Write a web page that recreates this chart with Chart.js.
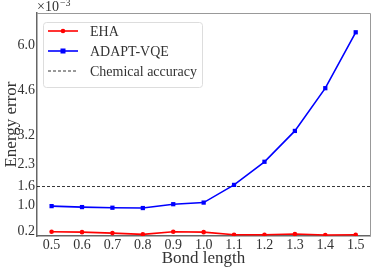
<!DOCTYPE html>
<html>
<head>
<meta charset="utf-8">
<script src="https://cdn.jsdelivr.net/npm/chart.js@4/dist/chart.umd.min.js"></script>
<style>
html,body{margin:0;padding:0;background:#fff;}
canvas{display:block;}
</style>
</head>
<body>
<canvas id="c" width="374" height="269"></canvas>
<script>
const bondLengths = [0.5, 0.6, 0.7, 0.8, 0.9, 1.0, 1.1, 1.2, 1.3, 1.4, 1.5];
const ehaError = [0.19, 0.18, 0.15, 0.11, 0.19, 0.18, 0.10, 0.10, 0.12, 0.09, 0.10];
const adaptError = [0.99, 0.96, 0.94, 0.93, 1.05, 1.10, 1.65, 2.37, 3.33, 4.66, 6.40];
const chemicalAccuracy = 1.6;
const yTicks = [0.2, 1.0, 1.6, 2.3, 3.2, 4.6, 6.0];
const xTicks = [0.5, 0.6, 0.7, 0.8, 0.9, 1.0, 1.1, 1.2, 1.3, 1.4, 1.5];
const seriesNames = ['EHA', 'ADAPT-VQE', 'Chemical accuracy'];
const X_MIN = 0.452, X_MAX = 1.547;

const FONT = '"Liberation Serif", "Times New Roman", serif';
const TXT = '#333';

const framePlugin = {
  id: 'frame',
  afterDraw(chart) {
    const {ctx, chartArea: a} = chart;
    ctx.save();
    // right and top spines
    ctx.strokeStyle = '#999';
    ctx.lineWidth = 1;
    ctx.beginPath();
    ctx.moveTo(a.left, a.top + 0.5);
    ctx.lineTo(a.right + 0.5, a.top + 0.5);
    ctx.lineTo(a.right + 0.5, a.bottom);
    ctx.stroke();
    // multiplier
    ctx.fillStyle = TXT;
    ctx.textBaseline = 'alphabetic';
    ctx.textAlign = 'left';
    ctx.font = '14px ' + FONT;
    ctx.fillText('\u00d710', a.left, 11);
    const w = ctx.measureText('\u00d710').width;
    ctx.font = '10px ' + FONT;
    ctx.fillText('\u22123', a.left + w + 1, 6);
    // legend
    const lx = 43, ly = 22, lw = 159, lh = 65;
    ctx.fillStyle = 'rgba(255,255,255,0.85)';
    ctx.strokeStyle = '#ddd';
    ctx.lineWidth = 1;
    ctx.beginPath();
    ctx.roundRect(lx + 0.5, ly + 0.5, lw, lh, 3);
    ctx.fill();
    ctx.stroke();
    const ds = chart.data.datasets;
    const rows = [31, 51, 71];
    ds.forEach((d, i) => {
      const y = rows[i];
      ctx.save();
      ctx.strokeStyle = d.borderColor;
      ctx.lineWidth = d.borderWidth;
      ctx.setLineDash(d.borderDash || []);
      ctx.beginPath();
      ctx.moveTo(48, y);
      ctx.lineTo(78, y);
      ctx.stroke();
      ctx.restore();
      if (d.pointRadius > 0) {
        ctx.fillStyle = d.borderColor;
        if (d.pointStyle === 'rect') {
          ctx.fillRect(63 - 2.5, y - 2.5, 5, 5);
        } else {
          ctx.beginPath();
          ctx.arc(63, y, 2.3, 0, Math.PI * 2);
          ctx.fill();
        }
      }
      ctx.fillStyle = TXT;
      ctx.font = '14px ' + FONT;
      ctx.textBaseline = 'middle';
      ctx.fillText(d.label, 90, y + 1);
    });
    ctx.restore();
  }
};

const ctx = document.getElementById('c').getContext('2d');
new Chart(ctx, {
  type: 'line',
  data: {
    datasets: [
      {
        label: seriesNames[0],
        data: bondLengths.map((x, i) => ({x, y: ehaError[i]})),
        borderColor: '#ff0000', backgroundColor: '#ff0000',
        borderWidth: 1.6, pointRadius: 2.3, pointStyle: 'circle', pointBorderWidth: 0
      },
      {
        label: seriesNames[1],
        data: bondLengths.map((x, i) => ({x, y: adaptError[i]})),
        borderColor: '#0000ff', backgroundColor: '#0000ff',
        borderWidth: 1.6, pointRadius: 3, pointStyle: 'rect', pointBorderWidth: 0
      },
      {
        label: seriesNames[2],
        data: [{x: X_MIN, y: chemicalAccuracy}, {x: X_MAX, y: chemicalAccuracy}],
        borderColor: '#000', borderWidth: 0.8, borderDash: [3, 2], pointRadius: 0
      }
    ]
  },
  options: {
    responsive: false,
    animation: false,
    layout: {padding: {top: 13, right: 3, left: 0, bottom: 0}},
    plugins: {legend: {display: false}, tooltip: {enabled: false}},
    scales: {
      x: {
        type: 'linear', min: X_MIN, max: X_MAX,
        afterBuildTicks: s => { s.ticks = xTicks.map(v => ({value: v})); },
        afterFit: s => { s.height = 33; },
        ticks: {callback: v => v.toFixed(1), color: TXT, font: {family: FONT, size: 14}, padding: 1, maxRotation: 0, autoSkip: false},
        grid: {display: true, drawOnChartArea: false, tickLength: 0},
        border: {color: '#666', width: 1.5},
        title: {display: true, text: 'Bond length', color: TXT, font: {family: FONT, size: 17}, padding: 0}
      },
      y: {
        type: 'linear', min: 0.06, max: 7.0,
        afterBuildTicks: s => { s.ticks = yTicks.map(v => ({value: v})); },
        afterFit: s => { s.width = 37; },
        ticks: {callback: v => v.toFixed(1), color: TXT, font: {family: FONT, size: 14}, padding: 2, autoSkip: false},
        grid: {display: true, drawOnChartArea: false, tickLength: 0},
        border: {color: '#666', width: 1.5},
        title: {display: true, text: 'Energy error', color: TXT, font: {family: FONT, size: 17}, padding: {top: 1, bottom: 0}}
      }
    }
  },
  plugins: [framePlugin]
});
</script>
</body>
</html>
